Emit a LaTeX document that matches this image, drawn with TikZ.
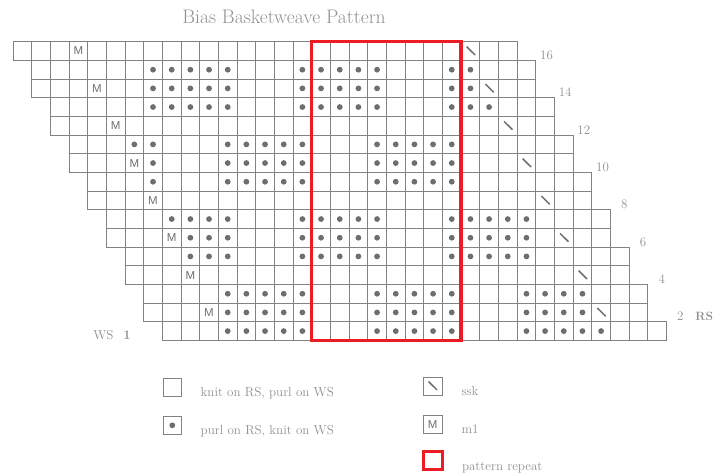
\documentclass[tikz,border=0pt]{standalone}
\usepackage{fontspec}
\newfontfamily\cellsans{Liberation Sans}
\usetikzlibrary{positioning}
\definecolor{gridCol}{HTML}{808285}
\definecolor{symCol}{HTML}{6D6E71}
\definecolor{txtCol}{HTML}{8D9093}
\definecolor{repCol}{HTML}{ED1C24}
\newcommand{\cellsz}{18.67}   % cell size
\newcommand{\gridx}{13}       % left of column 0
\newcommand{\gridy}{41.7}     % top of row 16
\newcommand{\fsz}[1]{\fontsize{#1}{#1}\selectfont}
\tikzset{
  cellbox/.style={draw=gridCol, line width=0.75pt},
  legbox/.style={draw=gridCol, line width=0.75pt, minimum size=18.67pt, inner sep=0pt},
  mtxt/.style={font=\cellsans\fsz{11.5}, text=symCol, inner sep=0pt},
  sskline/.style={draw=symCol, line width=1.5pt},
  rowlbl/.style={font=\fsz{13}, text=txtCol, anchor=base east, inner sep=0pt},
  legtxt/.style={font=\fsz{13}, text=txtCol, anchor=base west, inner sep=0pt},
  repbox/.style={draw=repCol, line width=3.3pt},
}
% purl dots of one row: row number, list of columns
\newcommand{\purlrow}[2]{\foreach \col in {#2}{\fill[symCol] ({(\col+0.5)*\cellsz+\gridx},{(16.5-#1)*\cellsz+\gridy}) circle (2.9);}}

\begin{document}
\begin{tikzpicture}[x=1pt,y=-1pt]
  \useasboundingbox (0,0) rectangle (725,473);
  \node[font=\fsz{19.6}, text=txtCol] (title) at (284,17) {Bias Basketweave Pattern};

  % chart cells, 27 per row, shifted every second row
  \foreach \r in {1,...,16}{
    \pgfmathtruncatemacro{\lft}{8-floor(\r/2)}
    \pgfmathtruncatemacro{\rgt}{\lft+26}
    \foreach \col in {\lft,...,\rgt}
      \draw[cellbox] ({\col*\cellsz+\gridx},{(16-\r)*\cellsz+\gridy}) rectangle ++(\cellsz,\cellsz);
  }

  % purl stitches
  \purlrow{15}{7,8,9,10,11,15,16,17,18,19,23,24}
  \purlrow{14}{7,8,9,10,11,15,16,17,18,19,23,24}
  \purlrow{13}{7,8,9,10,11,15,16,17,18,19,23,24,25}
  \purlrow{11}{6,7,11,12,13,14,15,19,20,21,22,23}
  \purlrow{10}{7,11,12,13,14,15,19,20,21,22,23}
  \purlrow{9}{7,11,12,13,14,15,19,20,21,22,23}
  \purlrow{7}{8,9,10,11,15,16,17,18,19,23,24,25,26,27}
  \purlrow{6}{9,10,11,15,16,17,18,19,23,24,25,26,27}
  \purlrow{5}{9,10,11,15,16,17,18,19,23,24,25,26,27}
  \purlrow{3}{11,12,13,14,15,19,20,21,22,23,27,28,29,30}
  \purlrow{2}{11,12,13,14,15,19,20,21,22,23,27,28,29,30}
  \purlrow{1}{11,12,13,14,15,19,20,21,22,23,27,28,29,30,31}

  % m1, ssk and row numbers on RS rows
  \foreach \r in {2,4,...,16}{
    \pgfmathtruncatemacro{\mcol}{11-\r/2}
    \pgfmathtruncatemacro{\sskc}{32-\r/2}
    \node[mtxt] (m\r) at ({(\mcol+0.5)*\cellsz+\gridx},{(16.5-\r)*\cellsz+\gridy}) {M};
    \draw[sskline] ({\sskc*\cellsz+\gridx+5.6},{(16-\r)*\cellsz+\gridy+5}) -- ++(8.4,8.3);
    \node[rowlbl] (lbl\r) at ({(35-\r/2)*\cellsz+\gridx+36},{(17-\r)*\cellsz+\gridy-0.8}) {\r};
  }
  \node[anchor=base west, font=\bfseries\fsz{12}, text=txtCol, inner sep=0pt] (rs) at ([xshift=11.5pt]lbl2.base east) {RS};
  \node[rowlbl, font=\bfseries\fsz{13}] (lbl1) at ({8*\cellsz+\gridx-31.5},{16*\cellsz+\gridy-0.5}) {1};
  \node[rowlbl] (ws) at ([xshift=-9.5pt]lbl1.base west) {WS};

  % pattern repeat
  \draw[repbox] ({16*\cellsz+\gridx},\gridy) rectangle ({24*\cellsz+\gridx},{16*\cellsz+\gridy});

  % legend
  \node[legbox] (kbox) at (172.3,387.3) {};
  \node[legtxt] (ktxt) at ([xshift=18.5pt,yshift=1pt]kbox.south east) {knit on RS, purl on WS};
  \node[legbox, below=18.6pt of kbox] (pbox) {};
  \fill[symCol] (pbox.center) circle (2.9);
  \node[legtxt] (ptxt) at ([xshift=18.5pt,yshift=1pt]pbox.south east) {purl on RS, knit on WS};
  \node[legbox] (sbox) at (432.7,386.3) {};
  \draw[sskline] ([shift={(5.6,5)}]sbox.north west) -- ++(8.4,8.3);
  \node[legtxt] (stxt) at ([xshift=19pt,yshift=1pt]sbox.south east) {ssk};
  \node[legbox, mtxt, draw=gridCol, below=18.6pt of sbox] (mbox) {M};
  \node[legtxt] (mtxtl) at ([xshift=19pt,yshift=1pt]mbox.south east) {m1};
  \node[legbox, draw=repCol, line width=3.3pt, minimum size=18.4pt] (rbox) at (433,460.5) {};
  \node[legtxt] (rtxt) at ([xshift=18pt,yshift=0.5pt]rbox.south east) {pattern repeat};
\end{tikzpicture}
\end{document}
